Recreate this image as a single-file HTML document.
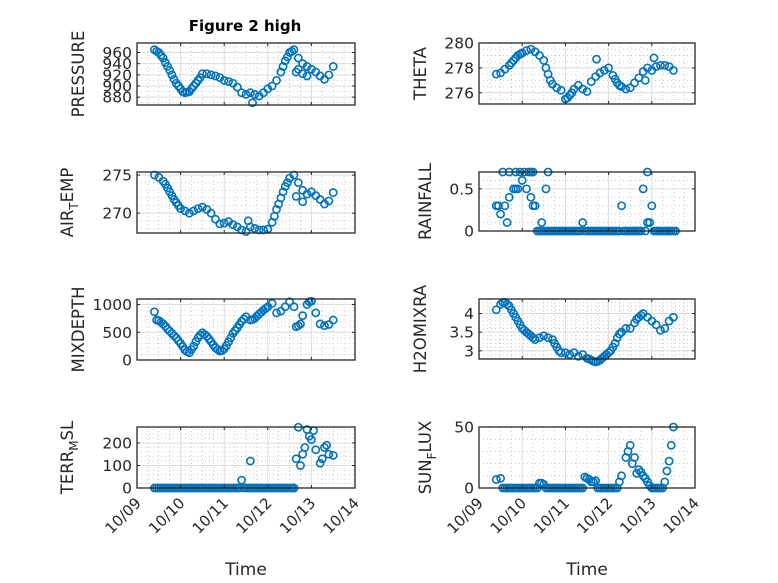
<!DOCTYPE html>
<html><head><meta charset="utf-8"><style>
body{margin:0;background:#fff;}
svg{display:block;font-family:"DejaVu Sans","Liberation Sans",sans-serif;}
</style></head><body>
<svg id="fig" width="778" height="583" viewBox="0 0 778 583">
<rect width="778" height="583" fill="#fff"/>
<text x="245" y="31" text-anchor="middle" font-size="15" font-weight="bold" fill="#000">Figure 2 high</text>
</svg>
<script>
const T=[9.4,9.5,9.6,9.7,9.8,9.9,10.0,10.1,10.2,10.3,10.4,10.5,10.6,10.7,10.8,10.9,11.0,11.1,11.2,11.3,11.4,11.5,11.6,11.7,11.8,11.9,12.0,12.1,12.2,12.3,12.4,12.5,12.6,12.7,12.8,12.9,13.0,13.1,13.2,13.3,13.4,13.5];
const pressure=[965,960,950,935,920,905,895,888,890,900,910,922,922,920,918,915,910,908,905,898,888,885,888,885,882,888,895,900,910,925,945,960,965,950,940,935,930,925,918,912,920,935];
const pressureExtraT=[11.65,12.65,12.7,12.8,12.9,9.45,9.55,9.65,9.75,9.85,9.95,10.05,10.15,10.25,10.35,10.45,12.35,12.45,12.55];
const pressureExtra=[870,925,930,922,918,962,955,942,928,912,900,890,889,895,905,915,935,952,962];
const theta=[277.5,277.6,277.9,278.2,278.6,279.0,279.2,279.4,279.5,279.3,279.0,278.6,277.5,276.7,276.4,276.2,275.5,275.8,276.3,276.6,276.3,276.1,276.9,277.3,277.6,277.8,278.0,277.4,276.8,276.5,276.3,276.4,276.8,277.2,277.7,278.0,277.8,278.1,278.2,278.2,278.1,277.8];
const thetaExtraT=[11.72,13.05,12.85,9.75,9.85,9.95,10.55,10.65,11.05,11.15,12.15,12.25];
const thetaExtra=[278.7,278.8,277.0,278.4,278.8,279.1,278.0,277.0,275.6,276.0,277.1,276.6];
const airTemp=[275,274.7,274.2,273.3,272.3,271.4,270.6,270.3,270.0,270.3,270.6,270.8,270.5,270.0,269.2,268.6,268.7,268.9,268.5,268.2,267.8,267.6,268.2,268.0,267.8,267.8,267.9,268.8,270.5,272.0,273.5,274.6,275.0,274.0,273.0,272.5,272.8,272.3,271.8,271.2,271.6,272.7];
const airTempExtraT=[11.55,12.65,12.8,9.65,9.75,9.85,9.95,12.15,12.25,12.35,12.45];
const airTempExtra=[269,272.2,271.5,273.8,272.8,271.8,271.0,269.6,271.2,272.8,274.0];
const rainfall=[0.3,0.2,0.3,0.4,0.5,0.5,0.6,0.5,0.4,0.3,0,0,0,0,0,0,0,0,0,0,0.1,0,0,0,0,0,0,0,0,0.3,0,0,0,0,0.5,0.1,0.3,0,0,0,0,0];
const rainfallExtraT=[9.55,9.7,9.85,9.95,10.05,10.15,10.2,10.25,10.6,9.85,10.55,9.45,10.25,9.65,10.45,12.95,12.9,10.35,10.45,10.55,10.65,10.75,10.85,10.95,11.05,11.15,11.25,11.35,11.45,11.55,11.65,11.75,11.85,11.95,12.05,12.15,12.25,12.35,12.45,12.55,12.65,12.75,12.85,13.05,13.15,13.25,13.35,13.45,13.55];
const rainfallExtra=[0.7,0.7,0.7,0.7,0.7,0.7,0.7,0.7,0.7,0.5,0.5,0.3,0.3,0.1,0.1,0.1,0.7,0,0,0,0,0,0,0,0,0,0,0,0,0,0,0,0,0,0,0,0,0,0,0,0,0,0,0,0,0,0,0,0];
const mixDepth=[870,710,650,560,480,400,300,180,130,250,400,490,430,330,220,160,200,330,480,580,700,780,720,750,830,900,960,1020,850,880,960,1050,960,620,800,1000,1060,850,650,620,640,720];
const mixDepthExtraT=[9.45,12.65,12.75,12.95,9.55,9.65,9.75,9.85,9.95,10.05,10.15,10.25,10.35,10.45,10.55,10.65,10.75,10.85,10.95,11.05,11.15,11.25,11.35,11.45,11.65,11.75,11.85,11.95];
const mixDepthExtra=[720,600,650,1050,680,610,520,440,350,240,150,190,330,450,460,380,270,190,170,260,400,530,640,740,730,790,860,930];
const h2o=[4.1,4.25,4.3,4.2,4.0,3.8,3.6,3.5,3.4,3.3,3.35,3.4,3.35,3.3,3.1,2.95,2.95,2.9,2.95,2.85,2.9,2.8,2.75,2.7,2.75,2.85,2.95,3.1,3.35,3.5,3.6,3.6,3.75,3.9,4.0,3.9,3.8,3.7,3.55,3.6,3.8,3.9];
const h2oExtraT=[9.55,9.65,9.75,9.85,9.95,10.05,10.15,10.25,10.75,10.85,11.55,11.65,11.75,11.85,11.95,12.05,12.15,12.25,12.65,12.75];
const h2oExtra=[4.3,4.25,4.1,3.9,3.7,3.55,3.45,3.35,3.2,3.0,2.78,2.72,2.72,2.8,2.9,3.0,3.2,3.45,3.85,3.95];
const terrMsl=[0,0,0,0,0,0,0,0,0,0,0,0,0,0,0,0,0,0,0,0,35,0,0,0,0,0,0,0,0,0,0,0,0,270,150,260,215,170,110,180,150,145];
const terrMslExtraT=[11.6,12.65,12.75,12.85,12.95,13.05,13.25,13.35,9.45,9.55,9.65,9.75,9.85,9.95,10.05,10.15,10.25,10.35,10.45,10.55,10.65,10.75,10.85,10.95,11.05,11.15,11.25,11.35,11.45,11.55,11.65,11.75,11.85,11.95,12.05,12.15,12.25,12.35,12.45,12.55,12.6];
const terrMslExtra=[120,130,100,180,230,255,130,190,0,0,0,0,0,0,0,0,0,0,0,0,0,0,0,0,0,0,0,0,0,0,0,0,0,0,0,0,0,0,0,0,0];
const sunFlux=[7,8,0,0,0,0,0,0,0,0,4,3,0,0,0,0,0,0,0,0,0,8,5,6,0,0,0,0,0,10,25,35,25,15,10,5,0,0,0,5,22,50];
const sunFluxExtraT=[12.45,12.55,12.65,12.75,13.45,13.35,9.55,9.65,9.75,9.85,9.95,10.05,10.15,10.25,10.35,10.45,10.55,10.65,10.75,10.85,10.95,11.05,11.15,11.25,11.35,11.45,11.55,11.65,11.75,11.85,11.95,12.05,12.15,12.25,12.85,12.95,13.05,13.15,13.25];
const sunFluxExtra=[30,20,12,13,35,14,0,0,0,0,0,0,0,0,0,4,0,0,0,0,0,0,0,0,0,9,7,5,0,0,0,0,0,5,8,2,0,0,0];
const xTicks=[9,10,11,12,13,14];
const xTickLabels=['10/09','10/10','10/11','10/12','10/13','10/14'];

const NS='http://www.w3.org/2000/svg';
const svg=document.getElementById('fig');
function el(tag,attrs,parent){const e=document.createElementNS(NS,tag);for(const k in attrs)e.setAttribute(k,attrs[k]);(parent||svg).appendChild(e);return e;}

const panels=[
 {name:'pressure',L:137,R:355,Tp:43,B:105,ymin:866,ymax:977,yt:[880,900,920,940,960],ym:10,lab:['PRESSURE'],lx:84,y:pressure,ex:pressureExtraT,ey:pressureExtra,xl:false},
 {name:'theta',L:479,R:695,Tp:43,B:104,ymin:275.1,ymax:280,yt:[276,278,280],ym:0.5,lab:['THETA'],lx:426,y:theta,ex:thetaExtraT,ey:thetaExtra,xl:false},
 {name:'air-temp',L:137,R:355,Tp:172,B:233,ymin:267.4,ymax:275.4,yt:[270,275],ym:1,lab:['AIR','T','EMP'],lx:73,y:airTemp,ex:airTempExtraT,ey:airTempExtra,xl:false},
 {name:'rainfall',L:479,R:695,Tp:172,B:231,ymin:0,ymax:0.7,yt:[0,0.5],ym:0.1,lab:['RAINFALL'],lx:431,y:rainfall,ex:rainfallExtraT,ey:rainfallExtra,xl:false},
 {name:'mixdepth',L:137,R:355,Tp:299,B:360,ymin:0,ymax:1100,yt:[0,500,1000],ym:100,lab:['MIXDEPTH'],lx:84,y:mixDepth,ex:mixDepthExtraT,ey:mixDepthExtra,xl:false},
 {name:'h2omixra',L:479,R:695,Tp:299,B:359,ymin:2.78,ymax:4.39,yt:[3,3.5,4],ym:0.1,lab:['H2OMIXRA'],lx:426,y:h2o,ex:h2oExtraT,ey:h2oExtra,xl:false},
 {name:'terr-msl',L:137,R:355,Tp:427,B:488,ymin:0,ymax:271,yt:[0,100,200],ym:20,lab:['TERR','M','SL'],lx:73,y:terrMsl,ex:terrMslExtraT,ey:terrMslExtra,xl:true},
 {name:'sun-flux',L:479,R:695,Tp:427,B:488,ymin:0,ymax:50,yt:[0,50],ym:10,lab:['SUN','F','LUX'],lx:431,y:sunFlux,ex:sunFluxExtraT,ey:sunFluxExtra,xl:true}
];

panels.forEach(p=>{
 const g=el('g',{});
 
 
 const xs=t=>p.L+(t-9)/5*(p.R-p.L);
 const ys=v=>p.B-(v-p.ymin)/(p.ymax-p.ymin)*(p.B-p.Tp);
 el('rect',{x:p.L,y:p.Tp,width:p.R-p.L,height:p.B-p.Tp,fill:'#fff'},g);
 for(let t=9;t<=14.001;t+=0.25){if(Math.abs(t-Math.round(t))>0.01){const x=xs(t);el('line',{x1:x,x2:x,y1:p.Tp,y2:p.B,stroke:'#bdbdbd','stroke-width':0.8,'stroke-dasharray':'1 3'},g);}}
 const start=Math.ceil(p.ymin/p.ym)*p.ym;
 for(let v=start;v<=p.ymax+1e-9;v+=p.ym){const y=ys(v);el('line',{x1:p.L,x2:p.R,y1:y,y2:y,stroke:'#bdbdbd','stroke-width':0.8,'stroke-dasharray':'1 3'},g);}
 xTicks.forEach(t=>{const x=xs(t);el('line',{x1:x,x2:x,y1:p.Tp,y2:p.B,stroke:'#dcdcdc','stroke-width':1},g);});
 p.yt.forEach(v=>{const y=ys(v);el('line',{x1:p.L,x2:p.R,y1:y,y2:y,stroke:'#dcdcdc','stroke-width':1},g);});
 const mk=(t,v,nm)=>{const c=el('circle',{cx:xs(t),cy:ys(v),r:3.6,fill:'none',stroke:'#0072BD','stroke-width':1.6},g);
  
  };
 T.forEach((t,i)=>mk(t,p.y[i],p.name+'-point'));
 p.ex.forEach((t,i)=>mk(t,p.ey[i],p.name+'-point'));
 el('rect',{x:p.L,y:p.Tp,width:p.R-p.L,height:p.B-p.Tp,fill:'none',stroke:'#262626','stroke-width':1.3},g);
 xTicks.forEach((t,i)=>{const x=xs(t);el('line',{x1:x,x2:x,y1:p.B,y2:p.B-3,stroke:'#262626'},g);el('line',{x1:x,x2:x,y1:p.Tp,y2:p.Tp+3,stroke:'#262626'},g);
  if(p.xl){const tx=el('text',{x:x+5,y:p.B+16,'text-anchor':'end','font-size':15,fill:'#262626',transform:`rotate(-45 ${x+5} ${p.B+16})`},g);tx.textContent=xTickLabels[i];
   
   }});
 p.yt.forEach(v=>{const y=ys(v);el('line',{x1:p.L,x2:p.L+3,y1:y,y2:y,stroke:'#262626'},g);el('line',{x1:p.R,x2:p.R-3,y1:y,y2:y,stroke:'#262626'},g);
  const tx=el('text',{x:p.L-5,y:y+5.5,'text-anchor':'end','font-size':15.5,fill:'#262626'},g);tx.textContent=String(v);
  
  });
 const cy=(p.Tp+p.B)/2;
 const lt=el('text',{x:p.lx,y:cy,'text-anchor':'middle','font-size':16.5,fill:'#262626',transform:`rotate(-90 ${p.lx} ${cy})`},g);
 
 
 p.lab.forEach((s,i)=>{const ts=el('tspan',{},lt);ts.textContent=s;if(i===1){ts.setAttribute('font-size','12');ts.setAttribute('dy','5');}if(i===2){ts.setAttribute('dy','-5');}});
 if(p.xl){const xt=el('text',{x:(p.L+p.R)/2,y:575,'text-anchor':'middle','font-size':17,fill:'#262626'},g);xt.textContent='Time';
  
  }
});
</script>
</body></html>
